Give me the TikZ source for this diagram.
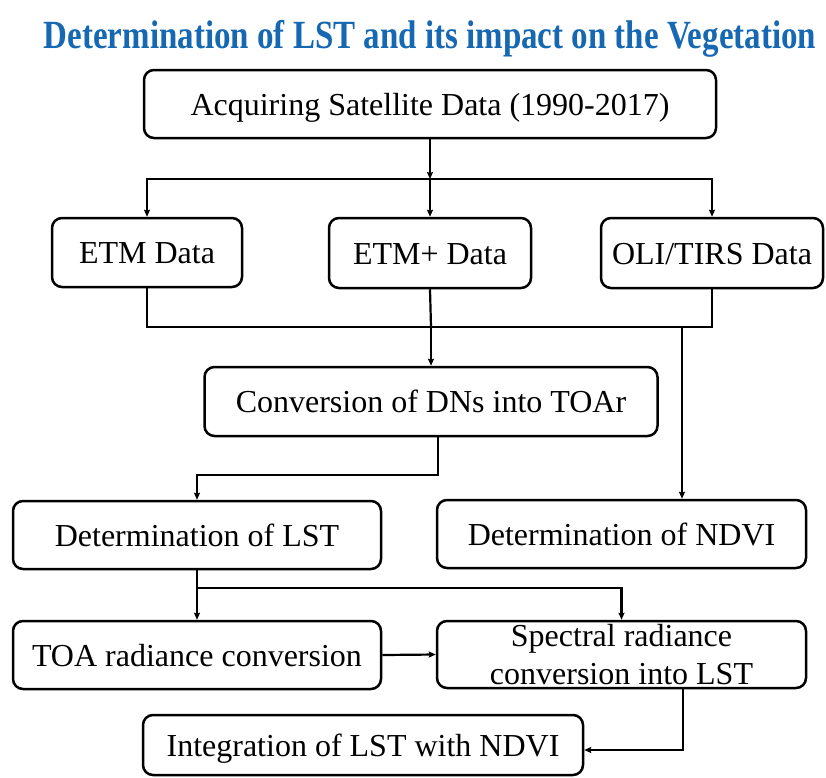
\documentclass[tikz,border=0pt]{standalone}
\usepackage{fontspec}
\setmainfont{Liberation Serif}
\usetikzlibrary{arrows.meta}
\definecolor{titleblue}{RGB}{22,104,178}
\begin{document}
\begin{tikzpicture}[x=1pt,y=-1pt,
  box/.style={draw=black,line width=2.5pt,rounded corners=10pt,inner sep=0pt,
    align=center,font=\fontsize{32}{38}\selectfont},
  onebox/.style={box,text height=22pt,text depth=0pt},
  conn/.style={line width=2.2pt},
  arr/.style={conn,-{Stealth[length=7pt,width=6pt,inset=1pt]}}]
\useasboundingbox (0,0) rectangle (826,777);
\node[font=\fontsize{40}{44}\bfseries\selectfont,text=titleblue,anchor=base,inner sep=0pt] (title) at (430,48) {\scalebox{0.825}[1]{Determination of LST and its impact on the Vegetation}};
\node[onebox,minimum width=572pt,minimum height=68pt] (top) at (430,104) {Acquiring Satellite Data (1990-2017)};
\node[onebox,minimum width=190pt,minimum height=69pt] (etm) at (147,252.5) {ETM Data};
\node[onebox,minimum width=202pt,minimum height=70pt] (etmp) at (430,253) {ETM+ Data};
\node[onebox,minimum width=222pt,minimum height=70pt] (oli) at (712,253) {OLI/TIRS Data};
\node[onebox,minimum width=453pt,minimum height=69pt] (conv) at (431,401.5) {Conversion of DNs into TOAr};
\node[onebox,minimum width=368pt,minimum height=68pt] (lst) at (197,535) {Determination of LST};
\node[onebox,minimum width=369pt,minimum height=68pt] (ndvi) at (621.5,534) {Determination of NDVI};
\node[onebox,minimum width=368pt,minimum height=68pt] (toa) at (197,655) {TOA radiance conversion};
\node[box,minimum width=369pt,minimum height=67pt] (spec) at (621.5,654.5) {Spectral radiance\\conversion into LST};
\node[onebox,minimum width=440pt,minimum height=60pt] (integ) at (363,745) {Integration of LST with NDVI};
% junctions
\coordinate (b1) at (430,179);
\coordinate (b2) at (431,327);
\coordinate (n1) at (682,327);
\coordinate (c1) at (438,475);
\coordinate (b3) at (197,588);
\coordinate (d1) at (683,750);
\draw[arr] (top.south) -- (b1);
\draw[arr] (b1) -| (etm.north);
\draw[arr] (b1) -| (oli.north);
\draw[arr] (b1) -- (etmp.north);
\draw[conn] (etm.south) |- (b2);
\draw[conn] (oli.south) |- (b2);
\draw[conn] (etmp.south) -- (b2);
\draw[arr] (b2) -- (conv.north);
\draw[arr] (n1) -- (n1 |- ndvi.north);
\draw[arr] (conv.south -| c1) -- (c1) -| (lst.north);
\draw[arr] (lst.south) -- (toa.north);
\draw[arr] (b3) -| (spec.north);
\draw[arr] (toa.east) -- (spec.west);
\draw[arr] (spec.south -| d1) -- (d1) -- (d1 -| integ.east);
\end{tikzpicture}
\end{document}
